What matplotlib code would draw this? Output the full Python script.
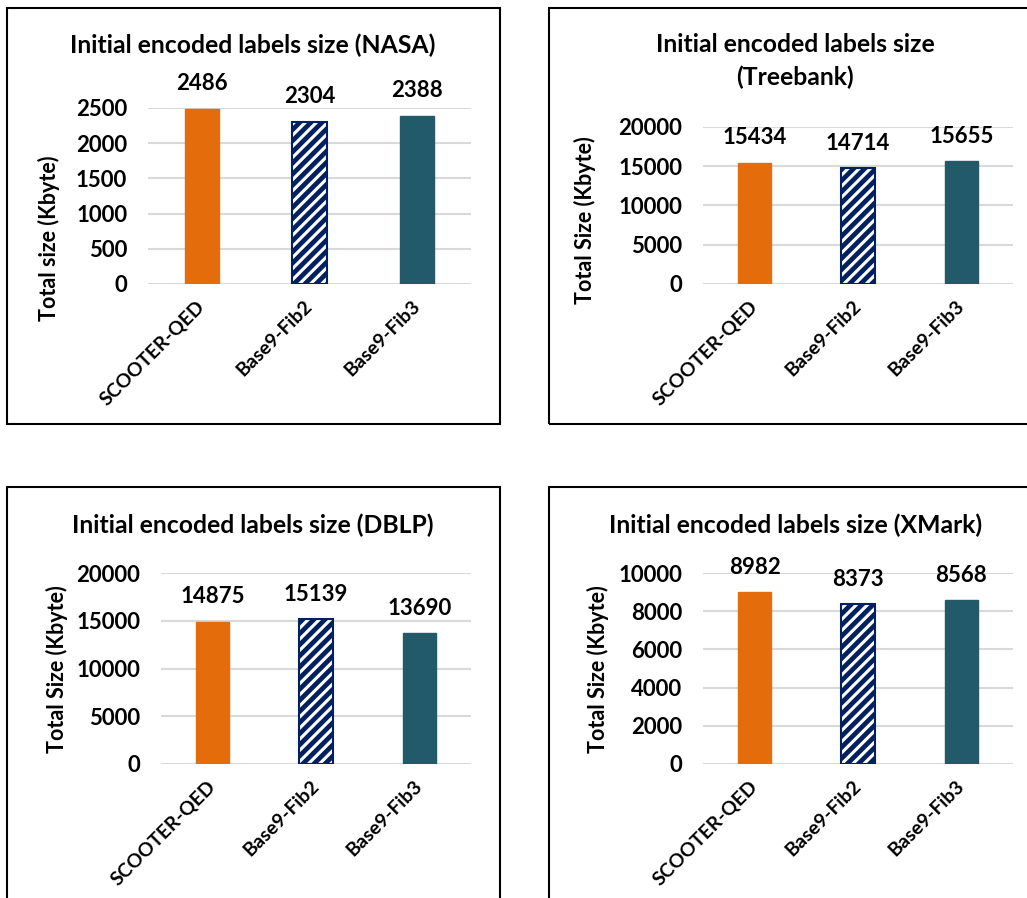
import matplotlib

matplotlib.use("Agg")
import matplotlib.pyplot as plt
from matplotlib.patches import Rectangle

W, H = 1027, 898

categorias = ["SCOOTER-QED", "Base9-Fib2", "Base9-Fib3"]
nasa = [2486, 2304, 2388]
treebank = [15434, 14714, 15655]
dblp = [14875, 15139, 13690]
xmark = [8982, 8373, 8568]

ticks_nasa = [0, 500, 1000, 1500, 2000, 2500]
ticks_tree = [0, 5000, 10000, 15000, 20000]
ticks_dblp = [0, 5000, 10000, 15000, 20000]
ticks_xmark = [0, 2000, 4000, 6000, 8000, 10000]

LARANJA = "#E46C0A"
AZUL = "#002060"
PETROLEO = "#235A69"
GRADE = "#D9D9D9"

plt.rcParams["font.family"] = ["Lato", "DejaVu Sans"]
plt.rcParams["font.weight"] = "bold"
plt.rcParams["hatch.linewidth"] = 3.4

fig = plt.figure(figsize=(W / 100, H / 100), dpi=100)
fig.patch.set_facecolor("white")


def fx(x):
    return x / W


def fy(y):
    return 1 - y / H


def painel(caixa, area, valores, ticks, titulo, titulo_xy, ylabel, ylabel_xy):
    # moldura do painel (pixels: x0, y0, x1, y1)
    x0, y0, x1, y1 = caixa
    fig.add_artist(Rectangle((fx(x0), fy(y1)), fx(x1 - x0), (y1 - y0) / H,
                             transform=fig.transFigure, fill=False,
                             edgecolor="black", linewidth=1.5))

    l, t, r, b = area
    ax = fig.add_axes([fx(l), fy(b), fx(r - l), (b - t) / H])
    xs = range(len(categorias))
    barras = ax.bar(xs, valores, width=0.32, zorder=3)
    barras[0].set_facecolor(LARANJA)
    barras[0].set_edgecolor(LARANJA)
    barras[1].set_facecolor("white")
    barras[1].set_edgecolor(AZUL)
    barras[1].set_hatch("///")
    barras[1].set_linewidth(1.5)
    barras[2].set_facecolor(PETROLEO)
    barras[2].set_edgecolor(PETROLEO)

    for x, v in zip(xs, valores):
        ax.annotate(str(v), (x, v), xytext=(0, 18), textcoords="offset points",
                    ha="center", va="center", fontsize=16, fontweight="bold")

    ax.set_xlim(-0.5, 2.5)
    ax.set_ylim(0, ticks[-1])
    ax.set_yticks(ticks)
    ax.set_xticks(list(xs))
    ax.set_xticklabels(categorias, rotation=45, ha="right", va="center",
                       rotation_mode="anchor", fontsize=14, fontweight="bold")
    ax.tick_params(axis="both", length=0)
    ax.tick_params(axis="x", pad=14)
    ax.tick_params(axis="y", pad=15, labelsize=16)
    ax.grid(axis="y", color=GRADE, linewidth=1.5, zorder=0)
    for s in ax.spines.values():
        s.set_visible(False)

    fig.text(fx(titulo_xy[0]), fy(titulo_xy[1]), titulo, ha="center", va="center",
             fontsize=17.8, fontweight="bold", linespacing=1.45)
    fig.text(fx(ylabel_xy[0]), fy(ylabel_xy[1]), ylabel, ha="center", va="center",
             rotation=90, fontsize=15.5, fontweight="bold")
    return ax


painel((7, 8, 500, 424), (148, 108, 471, 284), nasa, ticks_nasa,
       "Initial encoded labels size (NASA)", (253, 45),
       "Total size (Kbyte)", (49, 238))
painel((549, 8, 1040, 424), (703, 127, 1013, 284), treebank, ticks_tree,
       "Initial encoded labels size\n(Treebank)", (795, 61),
       "Total Size (Kbyte)", (585, 220))
painel((7, 487, 500, 910), (161, 573, 471, 764), dblp, ticks_dblp,
       "Initial encoded labels size (DBLP)", (253, 525),
       "Total Size (Kbyte)", (57, 669))
painel((549, 487, 1040, 910), (703, 573, 1013, 764), xmark, ticks_xmark,
       "Initial encoded labels size (XMark)", (796, 525),
       "Total Size (Kbyte)", (598, 669))

fig.savefig("out.png", dpi=100, facecolor="white")
plt.close(fig)
